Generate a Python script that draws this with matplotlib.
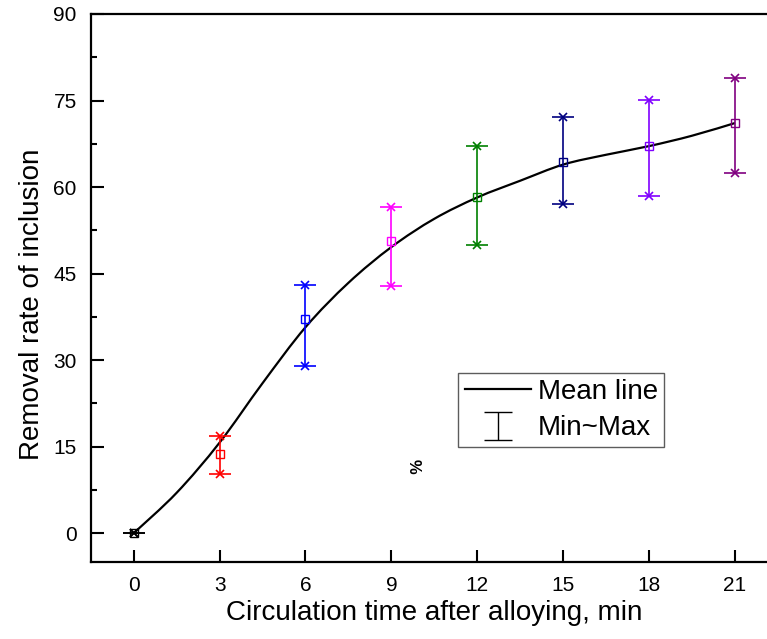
import matplotlib
matplotlib.use("Agg")
import matplotlib.pyplot as plt
from matplotlib.lines import Line2D
from matplotlib.path import Path
from matplotlib.patches import PathPatch

plt.rcParams['font.family'] = ['Liberation Sans', 'DejaVu Sans']

# Data
times = [0, 3, 6, 9, 12, 15, 18, 21]
mean_vals = [0.0, 13.8, 37.2, 50.7, 58.3, 64.3, 67.1, 71.1]
min_vals = [0.0, 10.3, 28.9, 42.8, 50.0, 57.0, 58.5, 62.4]
max_vals = [0.0, 16.9, 43.1, 56.6, 67.1, 72.1, 75.1, 78.9]
bar_colors = ['#000000', '#FF0000', '#0000FF', '#FF00FF', '#008000',
              '#000080', '#8000FF', '#800080']

# Mean line
curve_x = [0, 1.5, 3, 4.5, 6, 7.5, 9, 10.5, 12, 13.5, 15, 16.5, 18, 19.5, 21]
curve_y = [0, 7.0, 15.7, 26.0, 35.7, 43.4, 49.6, 54.5, 58.2, 61.1, 63.9,
           65.6, 67.1, 68.9, 71.1]

x_ticks = [0, 3, 6, 9, 12, 15, 18, 21]
y_ticks = [0, 15, 30, 45, 60, 75, 90]

fig = plt.figure(figsize=(7.67, 6.39), dpi=100)
ax = fig.add_axes([0.1183, 0.1205, 1.0143 - 0.1183, 0.9781 - 0.1205])


def smooth_path(xs, ys):
    """Catmull-Rom curve through the read points, drawn as Bezier segments."""
    verts = [(xs[0], ys[0])]
    codes = [Path.MOVETO]
    n = len(xs)
    for i in range(n - 1):
        x0, y0 = (xs[i - 1], ys[i - 1]) if i > 0 else (xs[i], ys[i])
        x1, y1 = xs[i], ys[i]
        x2, y2 = xs[i + 1], ys[i + 1]
        x3, y3 = (xs[i + 2], ys[i + 2]) if i + 2 < n else (xs[i + 1], ys[i + 1])
        c1 = (x1 + (x2 - x0) / 6.0, y1 + (y2 - y0) / 6.0)
        c2 = (x2 - (x3 - x1) / 6.0, y2 - (y3 - y1) / 6.0)
        verts += [c1, c2, (x2, y2)]
        codes += [Path.CURVE4] * 3
    return Path(verts, codes)


ax.add_patch(PathPatch(smooth_path(curve_x, curve_y), fill=False,
                       edgecolor='black', lw=1.6, zorder=3))

for t, m, lo, hi, c in zip(times, mean_vals, min_vals, max_vals, bar_colors):
    ax.errorbar([t], [m], yerr=[[m - lo], [hi - m]], fmt='none', ecolor=c,
                elinewidth=1.2, capsize=8, capthick=1.2, zorder=4)
    ax.plot([t, t], [lo, hi], ls='none', marker='x', ms=6, mew=1.2,
            color=c, zorder=5)
    ax.plot([t], [m], ls='none', marker='s', ms=5.5, mfc='none', mec=c,
            mew=1.0, zorder=5)

ax.text(9.76, 11.5, '%', rotation=-90, fontsize=12, fontweight='bold',
        ha='center', va='center')

ax.set_xlim(-1.5, 22.5)
ax.set_ylim(-5, 90)
ax.set_xticks(x_ticks)
ax.set_yticks(y_ticks)
ax.set_yticks([7.5, 22.5, 37.5, 52.5, 67.5, 82.5], minor=True)
ax.tick_params(axis='both', which='major', direction='in', length=9,
               width=1.5, labelsize=15, pad=10)
ax.tick_params(axis='y', which='minor', direction='in', length=4.5,
               width=1.5)
ax.tick_params(top=False, right=False)
for s in ['left', 'bottom', 'top']:
    ax.spines[s].set_linewidth(1.6)
ax.spines['right'].set_visible(False)

ax.set_xlabel('Circulation time after alloying, min', fontsize=20, labelpad=4)
ax.set_ylabel('Removal rate of inclusion', fontsize=20)
ax.yaxis.set_label_coords(-0.066, 0.47)

h_line = Line2D([], [], color='black', lw=1.6)
# errorbar drawn outside the visible range, used only as legend handle
h_err = ax.errorbar([-50], [0], yerr=[1], fmt='none', ecolor='black',
                    elinewidth=1.0, capsize=10, capthick=1.0)
leg = ax.legend([h_line, h_err], ['Mean line', 'Min~Max'],
                loc='lower left', bbox_to_anchor=(0.535, 0.209),
                borderaxespad=0, fontsize=20, frameon=True, fancybox=False,
                handlelength=2.4, handletextpad=0.25, borderpad=0.22,
                labelspacing=0.38)
leg.get_frame().set_edgecolor('#333333')
leg.get_frame().set_linewidth(1.0)

fig.savefig('out.png', dpi=100)
